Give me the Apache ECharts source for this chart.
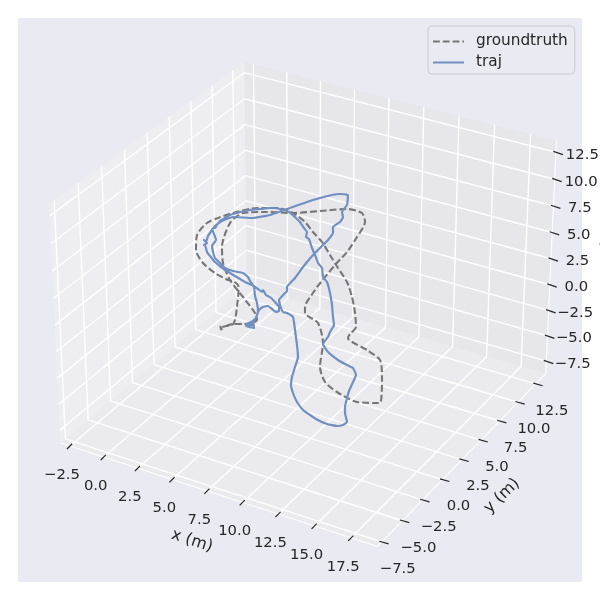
<!DOCTYPE html>
<html><head><meta charset="utf-8">
<style>html,body{margin:0;padding:0;background:#fff}#c{width:600px;height:600px}</style>
<script src="https://cdn.jsdelivr.net/npm/echarts@6/dist/echarts.min.js"></script>
</head><body><div id="c"></div>
<script>
// Tick values / labels of the three axes
const xTicks = [-2.5,0,2.5,5,7.5,10,12.5,15,17.5];
const yTicks = [-7.5,-5,-2.5,0,2.5,5,7.5,10,12.5];
const zTicks = [-7.5,-5,-2.5,0,2.5,5,7.5,10,12.5];
const xLim = [-3.2,19.27], yLim = [-8.02,13.9], zLim = [-8.75,13.55];
// Trajectories, in the image plane of the fixed 3D view
const groundtruthU = [220,222,220,226,232,235,237,238.5,238,233,228,215,203,196,197,207,218,233,257,277,293,305,313,322,330,338,347,352,355,356,350,348,367,380,382,380,357,337,325,320,323,318,305,305,315,317,335,347,357,365,362,347,320,293,267,243,230,222,223,230,243,255,257,252,243,233,223];
const groundtruthV = [326,330,328,326,325,320,307,290,285,281,280,273,263,250,235,223,218,213,208,208,213,222,232,242,255,268,282,297,313,327,334,338,350,360,377,403,402,392,382,367,343,323,313,307,290,287,265,252,237,222,213,209,211,213,212,213,223,247,263,280,297,313,320,323,324,324,327];
const trajU = [245,253,254,246,252,247,253,251,256,258,257,255,254,250,248,243,233,225,220,215,213,212,216,214,212,216,215,220,230,240,250,260,270,280,289,295,297,300,304,307,306,309,312,315,318,322,323,327,330,332,333,334,330,328,323,328,338,345,353,356,353,349,347,345,345,347,343,337,327,316,303,297,293,291,292,295,298,297,295,294,293,287,283,281,279,284,287,287,295,303,313,323,328,333,333,340,343,342,347,348,340,332,313,290,270,253,233,222,215,212,208,206,204,207,204,205,207,210,215,225,235,245,252,258,262,263,266,270,275,279,279,276,272,268,263,259,257,255,248];
const trajV = [325,321,328,326,323,325,325,323,318,311,303,296,287,281,277,273,271,268,263,258,252,246,240,234,229,227,228,221,215,212,210,209,208,209,212,217,219,222,228,232,237,239,248,255,263,268,277,282,293,305,317,325,332,337,344,352,360,364,368,375,382,391,398,407,413,422,425,426,424,419,410,402,393,385,377,367,357,345,330,322,317,313,312,308,300,294,291,287,278,267,255,245,240,233,227,222,217,212,205,195,194,195,200,208,215,218,217,221,226,230,236,242,240,243,245,245,252,256,262,270,276,282,285,289,292,290,295,297,302,307,311,312,309,306,307,310,315,320,325];

// Fixed 3D view: elev 30, azim -60, dist 10, box aspect 4:4:3
const el = Math.PI/6, az = -Math.PI/3, dist = 10;
const k = 1.8294640721620434*25/24/Math.sqrt(41);
const box = [4*k,4*k,3*k];
const w = [Math.cos(el)*Math.cos(az),Math.cos(el)*Math.sin(az),Math.sin(el)];
const un = Math.hypot(w[0],w[1]);
const u = [-w[1]/un,w[0]/un,0];
const v = [w[1]*u[2]-w[2]*u[1],w[2]*u[0]-w[0]*u[2],w[0]*u[1]-w[1]*u[0]];
function proj(x,y,z){
  const p=[(x-xLim[0])/(xLim[1]-xLim[0])*box[0]-box[0]/2,(y-yLim[0])/(yLim[1]-yLim[0])*box[1]-box[1]/2,(z-zLim[0])/(zLim[1]-zLim[0])*box[2]-box[2]/2];
  const d=dist-(p[0]*w[0]+p[1]*w[1]+p[2]*w[2]);
  const a=(p[0]*u[0]+p[1]*u[1]+p[2]*u[2])/d, b=(p[0]*v[0]+p[1]*v[1]+p[2]*v[2])/d;
  return [18+(a+0.095)/0.185*564, 582-(b+0.095)/0.185*564];
}
const x0=xLim[0],x1=xLim[1],y0=yLim[0],y1=yLim[1],z0=zLim[0],z1=zLim[1];
const ink='#262626', white='#ffffff';
const series=[];
function poly(pts,fill,z){
  series.push({type:'custom',coordinateSystem:'cartesian2d',silent:true,z:z,clip:false,
    data:[0],renderItem:(p,api)=>({type:'polygon',shape:{points:pts.map(q=>api.coord(q))},style:{fill:fill,stroke:null}})});
}
function seg(a,b,color,width,z){
  series.push({type:'line',data:[a,b],symbol:'none',silent:true,z:z,clip:false,lineStyle:{color:color,width:width},emphasis:{disabled:true}});
}
// figure background and panes
poly([[18,18],[582,18],[582,582],[18,582]],'#eaeaf2',1);
poly([proj(x0,y0,z0),proj(x0,y1,z0),proj(x0,y1,z1),proj(x0,y0,z1)],'#eeeef2',2);
poly([proj(x0,y1,z0),proj(x1,y1,z0),proj(x1,y1,z1),proj(x0,y1,z1)],'#e6e6eb',2);
poly([proj(x0,y0,z0),proj(x1,y0,z0),proj(x1,y1,z0),proj(x0,y1,z0)],'#ebebef',2);
// grid
xTicks.forEach(t=>{seg(proj(t,y0,z0),proj(t,y1,z0),white,1.4,3);seg(proj(t,y1,z0),proj(t,y1,z1),white,1.4,3);});
yTicks.forEach(t=>{seg(proj(x0,t,z0),proj(x1,t,z0),white,1.4,3);seg(proj(x0,t,z0),proj(x0,t,z1),white,1.4,3);});
zTicks.forEach(t=>{seg(proj(x0,y0,t),proj(x0,y1,t),white,1.4,3);seg(proj(x0,y1,t),proj(x1,y1,t),white,1.4,3);});
// axis edges
seg(proj(x0,y0,z0),proj(x1,y0,z0),white,1.1,4);
seg(proj(x1,y0,z0),proj(x1,y1,z0),white,1.1,4);
seg(proj(x1,y1,z0),proj(x1,y1,z1),white,1.1,4);
// ticks
function shift(p,dx,dy){return [p[0]+dx,p[1]+dy];}
xTicks.forEach(t=>{const p=proj(t,y0,z0);seg(shift(p,2.2,-2.2),shift(p,-3,3),ink,1.2,5);});
yTicks.forEach(t=>{const p=proj(x1,t,z0);seg(shift(p,-2.5,-0.7),shift(p,6.8,1.9),ink,1.2,5);});
zTicks.forEach(t=>{const p=proj(x1,y1,t);seg(shift(p,-2.5,-0.8),shift(p,7,2.4),ink,1.2,5);});
// text
const texts=[];
const fmt=t=>(t<0?'\u2212':'')+Math.abs(t).toFixed(1);
xTicks.forEach(t=>{const p=proj(t,y0,z0);texts.push([p[0]-8,p[1]+29,fmt(t),14.8,0]);});
yTicks.forEach(t=>{const p=proj(x1,t,z0);texts.push([p[0]+16,p[1]+27,fmt(t),14.8,0]);});
zTicks.forEach(t=>{const p=proj(x1,y1,t);texts.push([p[0]+26.5,p[1]+2.5,fmt(t),14.8,0]);});
texts.push([192,541,'x (m)',16,-18]);
texts.push([502,496,'y (m)',16,44]);
texts.push([606,247,'z (m)',16,-88]);
series.push({type:'custom',coordinateSystem:'cartesian2d',silent:true,z:6,clip:false,data:texts.map((_,i)=>i),
  renderItem:(p,api)=>{const t=texts[api.value(0)];const c=api.coord([t[0],t[1]]);
    return {type:'text',x:c[0],y:c[1],rotation:t[4]*Math.PI/180,style:{text:t[2],fill:ink,align:'center',verticalAlign:'middle',font:t[3]+'px "DejaVu Sans"'}};},
  encode:{x:0}});
// trajectories
series.push({name:'groundtruth',type:'line',data:groundtruthU.map((a,i)=>[a,groundtruthV[i]]),symbol:'none',smooth:0.25,z:7,clip:false,silent:true,
  lineStyle:{color:'#777777',width:2.1,type:[6.8,3]},itemStyle:{color:'rgba(0,0,0,0)'},emphasis:{disabled:true}});
series.push({name:'traj',type:'line',data:trajU.map((a,i)=>[a,trajV[i]]),symbol:'none',smooth:0.12,z:8,clip:false,silent:true,
  lineStyle:{color:'#7090c2',width:2.2,join:'round'},itemStyle:{color:'rgba(0,0,0,0)'},emphasis:{disabled:true}});

const chart=echarts.init(document.getElementById('c'),null,{renderer:'canvas'});
chart.setOption({animation:false,backgroundColor:'#ffffff',tooltip:{show:false},
  grid:{left:0,right:0,top:0,bottom:0},
  xAxis:{type:'value',min:0,max:600,show:false},
  yAxis:{type:'value',min:0,max:600,inverse:true,show:false},
  legend:{data:['groundtruth','traj'],orient:'vertical',left:428,top:26,padding:[8,7,4,4],itemGap:6,itemWidth:31,itemHeight:16,align:'left',
    backgroundColor:'#eaeaf2',borderColor:'#cccccc',borderWidth:1,borderRadius:4,selectedMode:false,
    itemStyle:{opacity:0,color:'rgba(0,0,0,0)',borderWidth:0},
    textStyle:{color:ink,fontFamily:'DejaVu Sans',fontSize:15.3,padding:[0,0,0,7]}},
  series:series});
</script></body></html>
